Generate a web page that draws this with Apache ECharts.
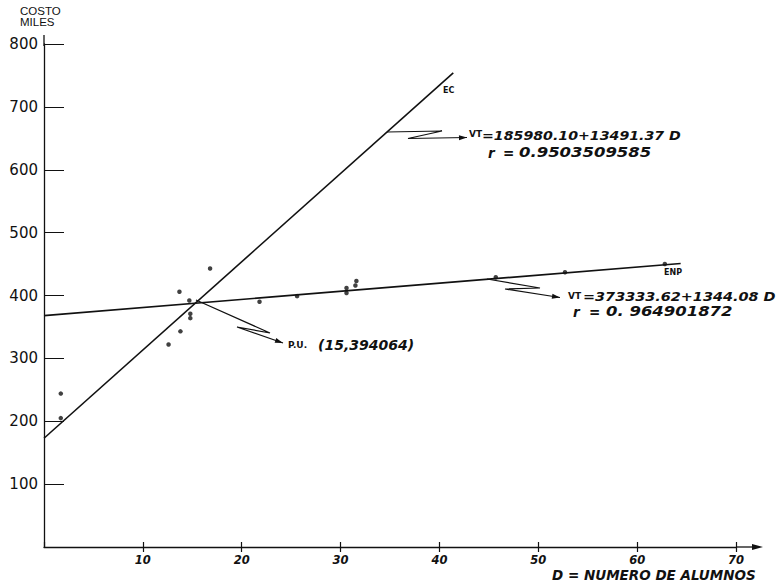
<!DOCTYPE html>
<html><head><meta charset="utf-8">
<script src="https://cdn.jsdelivr.net/npm/echarts@6/dist/echarts.min.js"></script>
<style>html,body{margin:0;padding:0;background:#fff}#c{width:776px;height:583px}</style>
</head><body><div id="c"></div>
<script>
// ---- data (D = numero de alumnos, VT = costo en miles) ----
var xTicks = [10, 20, 30, 40, 50, 60, 70];
var yTicks = [100, 200, 300, 400, 500, 600, 700, 800];
var ecLineD = [0, 41.4];
var ecLineVT = [173, 754];
var enpLineD = [0, 64.4];
var enpLineVT = [368, 451];
var pointsD  = [1.7, 1.7, 12.6, 13.7, 13.8, 14.7, 14.8, 14.8, 16.8, 21.8, 25.6, 30.6, 30.6, 31.5, 31.6, 45.7, 52.7, 62.8];
var pointsVT = [244, 205, 322, 406, 343, 392, 371, 364, 443, 390, 399, 412, 404, 416, 423, 429, 437, 450];

function zip(a, b) { return a.map(function (v, i) { return [v, b[i]]; }); }

var chart = echarts.init(document.getElementById('c'), null, {renderer: 'svg'});
var F = '"Liberation Sans", Arial, sans-serif';
var FD = '"DejaVu Sans", Verdana, sans-serif';
var ink = '#111';

function arrowHead(tip, from, len, half) {
  var dx = tip[0] - from[0], dy = tip[1] - from[1];
  var d = Math.sqrt(dx * dx + dy * dy); dx /= d; dy /= d;
  var bx = tip[0] - dx * len, by = tip[1] - dy * len;
  return {type: 'polygon', shape: {points: [tip, [bx - dy * half, by + dx * half], [bx + dy * half, by - dx * half]]}, style: {fill: ink}};
}
function leader(pts) {
  return [{type: 'polyline', shape: {points: pts}, style: {stroke: ink, lineWidth: 1.2, fill: null}},
          arrowHead(pts[pts.length - 1], pts[pts.length - 2], 8, 2.5)];
}
function txt(x, y, t, size, bold, italic, fam, sx) {
  return {type: 'text', x: x, y: y, scaleX: sx || 1, style: {text: t, fill: ink, font: (italic ? 'italic ' : '') + (bold ? 'bold ' : '') + size + 'px ' + (fam || FD), textVerticalAlign: 'middle', verticalAlign: 'middle'}};
}

var ecL = leader([[387, 132], [442, 131], [408, 138.5], [467, 137.5]]);
var enpL = leader([[487, 279], [540, 288], [505, 289], [560, 297.5]]);
var puL = leader([[196, 300], [270, 333], [237, 327], [283, 343]]);

var graphics = [].concat(ecL, enpL, puL, [
  {type: 'line', shape: {x1: 44, y1: 46, x2: 44, y2: 35}, style: {stroke: ink, lineWidth: 1.3}},
  {type: 'line', shape: {x1: 736, y1: 547, x2: 756, y2: 547}, style: {stroke: ink, lineWidth: 1.3}},
  {type: 'polygon', shape: {points: [[763, 547], [752, 544], [752, 550]]}, style: {fill: ink}},
  txt(20, 11, 'COSTO', 11.5, false, false, F),
  txt(20, 22, 'MILES', 11.5, false, false, F),
  txt(443, 90, 'EC', 8, true, false),
  txt(664, 272, 'ENP', 8, true, false),
  txt(469, 134, 'VT', 9, true, false),
  txt(482, 135, '=185980.10+13491.37 D', 13, true, true, FD, 1.09),
  txt(488, 153, 'r', 13.5, true, true),
  txt(503, 153, '=', 13.5, true, true),
  txt(519, 153, '0.9503509585', 13.5, true, true, FD, 1.22),
  txt(568, 296, 'VT', 9, true, false),
  txt(583, 296, '=373333.62+1344.08 D', 13, true, true, FD, 1.11),
  txt(573, 312, 'r', 13.5, true, true),
  txt(589, 312, '=', 13.5, true, true),
  txt(606, 312, '0. 964901872', 13.5, true, true, FD, 1.22),
  txt(288, 345, 'P.U.', 9, true, false),
  txt(318, 345, '(15,394064)', 14, true, true),
  txt(552, 575, 'D = NUMERO DE ALUMNOS', 13.5, true, true)
]);

chart.setOption({
  animation: false,
  backgroundColor: '#fff',
  grid: {left: 44, right: 40, top: 44, bottom: 36, containLabel: false},
  xAxis: [{
    type: 'value', min: 0, max: 70, interval: 10,
    axisLine: {show: true, lineStyle: {color: ink, width: 1.3}},
    axisTick: {show: true, length: 5, lineStyle: {color: ink, width: 1.2}},
    axisLabel: {show: true, showMinLabel: false, margin: 7, color: ink, fontFamily: FD, fontSize: 11.5, fontWeight: 'bold', fontStyle: 'italic',
      formatter: function (v) { return xTicks.indexOf(v) >= 0 ? String(v) : ''; }},
    splitLine: {show: false}
  }, {
    type: 'value', min: 0, max: 70, interval: 10, position: 'bottom',
    axisLine: {show: false},
    axisTick: {show: true, inside: true, length: 5, lineStyle: {color: ink, width: 1.2}},
    axisLabel: {show: false}, splitLine: {show: false}
  }],
  yAxis: {
    type: 'value', min: 0, max: 800, interval: 100,
    axisLine: {show: true, lineStyle: {color: ink, width: 1.3}},
    axisTick: {show: true, inside: true, length: 20, lineStyle: {color: ink, width: 1}},
    axisLabel: {show: true, showMinLabel: false, margin: 6, color: ink, fontFamily: FD, fontSize: 15,
      formatter: function (v) { return yTicks.indexOf(v) >= 0 ? String(v) : ''; }},
    splitLine: {show: false}
  },
  series: [
    {name: 'EC', type: 'line', data: zip(ecLineD, ecLineVT), symbol: 'none', lineStyle: {color: ink, width: 1.6}},
    {name: 'ENP', type: 'line', data: zip(enpLineD, enpLineVT), symbol: 'none', lineStyle: {color: ink, width: 1.6}},
    {name: 'puntos', type: 'scatter', data: zip(pointsD, pointsVT), symbolSize: 4.5, itemStyle: {color: ink}}
  ],
  graphic: graphics
});
</script></body></html>
